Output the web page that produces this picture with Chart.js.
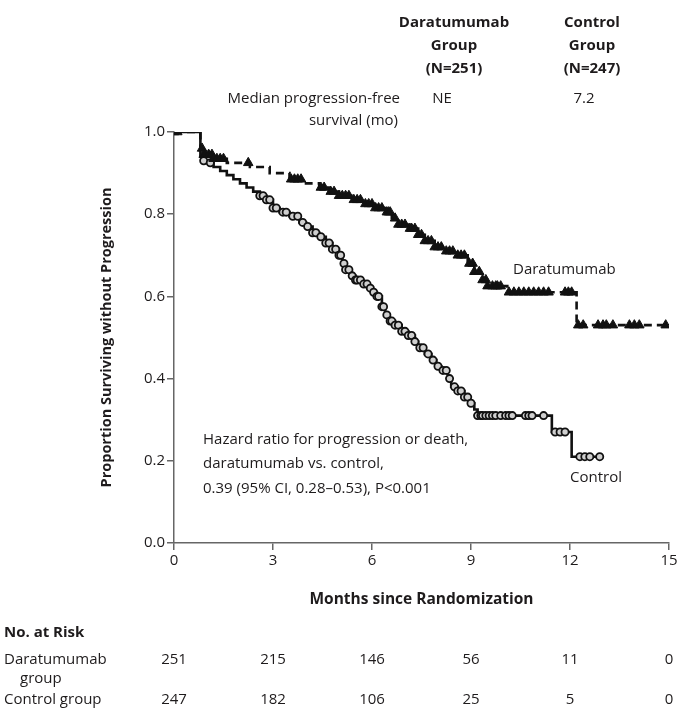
<!DOCTYPE html>
<html>
<head>
<meta charset="utf-8">
<script src="https://cdn.jsdelivr.net/npm/chart.js@4"></script>
<style>
  body { margin: 0; background: #fff; }
  canvas { display: block; }
</style>
</head>
<body>
<canvas id="grafico" width="681" height="710"></canvas>
<script>
// Curva de Kaplan-Meier - grupo daratumumab (tempo em meses, proporção)
const daraMeses = [0, 0.8, 0.9, 1.2, 1.6, 2.3, 2.9, 3.5, 4.0, 4.4, 4.7, 5.0, 5.4, 5.8, 6.1, 6.4, 6.6, 6.8, 7.1, 7.4, 7.6, 7.9, 8.2, 8.6, 8.9, 9.1, 9.3, 9.5, 10.1, 12.2, 15];
const daraSobrev = [1.0, 0.96, 0.945, 0.935, 0.925, 0.915, 0.9, 0.885, 0.875, 0.865, 0.855, 0.845, 0.835, 0.825, 0.815, 0.805, 0.79, 0.775, 0.765, 0.75, 0.735, 0.72, 0.71, 0.7, 0.68, 0.66, 0.64, 0.625, 0.61, 0.53, 0.53];

// Curva do grupo controle
const ctrlMeses = [0, 0.8, 0.85, 1.0, 1.2, 1.4, 1.6, 1.8, 2.0, 2.2, 2.4, 2.6, 2.8, 3.0, 3.2, 3.5, 3.8, 4.0, 4.2, 4.4, 4.6, 4.8, 5.0, 5.1, 5.2, 5.35, 5.5, 5.7, 5.9, 6.0, 6.15, 6.3, 6.4, 6.5, 6.7, 6.9, 7.1, 7.3, 7.4, 7.6, 7.8, 7.95, 8.1, 8.3, 8.4, 8.6, 8.8, 8.95, 9.1, 9.2, 11.45, 12.05, 12.9];
const ctrlSobrev = [1.0, 0.94, 0.93, 0.925, 0.915, 0.905, 0.895, 0.885, 0.875, 0.865, 0.855, 0.845, 0.835, 0.815, 0.805, 0.795, 0.78, 0.77, 0.755, 0.745, 0.73, 0.715, 0.7, 0.68, 0.665, 0.65, 0.64, 0.63, 0.62, 0.61, 0.6, 0.575, 0.555, 0.54, 0.53, 0.515, 0.505, 0.49, 0.475, 0.46, 0.445, 0.43, 0.42, 0.4, 0.38, 0.37, 0.355, 0.34, 0.325, 0.31, 0.27, 0.21, 0.21];

// Tempos de censura (marcadores)
const daraCensura = [0, 0.1, 0.85, 0.9, 0.95, 1.05, 1.15, 1.2, 1.3, 1.4, 1.5, 2.25, 3.55, 3.65, 3.75, 3.85, 4.45, 4.55, 4.75, 4.85, 5.0, 5.1, 5.2, 5.3, 5.45, 5.55, 5.65, 5.8, 5.9, 6.0, 6.1, 6.2, 6.3, 6.45, 6.5, 6.55, 6.7, 6.8, 6.9, 7.0, 7.15, 7.2, 7.3, 7.4, 7.5, 7.6, 7.7, 7.8, 7.9, 8.0, 8.1, 8.25, 8.35, 8.45, 8.6, 8.7, 8.8, 8.95, 9.05, 9.1, 9.25, 9.35, 9.45, 9.5, 9.65, 9.75, 9.8, 9.9, 10.15, 10.3, 10.45, 10.6, 10.75, 10.9, 11.05, 11.2, 11.35, 11.85, 11.95, 12.05, 12.25, 12.4, 12.85, 13.0, 13.1, 13.3, 13.8, 13.95, 14.1, 14.9];
const ctrlCensura = [0.9, 1.1, 2.6, 2.7, 2.8, 2.9, 3.0, 3.1, 3.3, 3.4, 3.6, 3.75, 3.9, 4.05, 4.2, 4.3, 4.45, 4.6, 4.7, 4.8, 4.9, 5.0, 5.05, 5.15, 5.2, 5.3, 5.4, 5.5, 5.55, 5.65, 5.75, 5.85, 5.95, 6.05, 6.15, 6.2, 6.3, 6.35, 6.45, 6.55, 6.6, 6.7, 6.8, 6.9, 7.0, 7.1, 7.2, 7.3, 7.45, 7.55, 7.7, 7.85, 8.0, 8.15, 8.25, 8.35, 8.5, 8.6, 8.7, 8.8, 8.9, 9.0, 9.2, 9.3, 9.35, 9.45, 9.55, 9.65, 9.75, 9.9, 10.05, 10.15, 10.25, 10.65, 10.75, 10.85, 11.2, 11.55, 11.7, 11.85, 12.3, 12.45, 12.6, 12.9];

// Eixo x e número em risco
const marcasX = [0, 3, 6, 9, 12, 15];
const riscoDara = [251, 215, 146, 56, 11, 0];
const riscoCtrl = [247, 182, 106, 25, 5, 0];

const FONTE = '"Open Sans", sans-serif';
const COR_TEXTO = '#1e1b1c';

// valor da curva em degrau no tempo t
function valorNoTempo(meses, sobrev, t) {
  let v = sobrev[0];
  for (let i = 0; i < meses.length; i++) {
    if (meses[i] <= t) v = sobrev[i];
  }
  return v;
}

const pontos = (meses, sobrev) => meses.map((m, i) => ({ x: m, y: sobrev[i] }));
const censuras = (tempos, meses, sobrev) => tempos.map(t => ({ x: t, y: valorNoTempo(meses, sobrev, t) }));

// Plugin para desenhar os textos fora do gráfico
const textos = {
  id: 'textos',
  afterDraw(chart) {
    const c = chart.ctx;
    const xs = chart.scales.x;
    c.save();
    c.fillStyle = COR_TEXTO;
    c.textBaseline = 'middle';

    // cabeçalho
    c.font = 'bold 15px ' + FONTE;
    c.textAlign = 'center';
    [['Daratumumab', 'Group', '(N=251)', 454], ['Control', 'Group', '(N=247)', 592]].forEach(col => {
      c.fillText(col[0], col[3], 23);
      c.fillText(col[1], col[3], 46);
      c.fillText(col[2], col[3], 69);
    });
    c.font = '15px ' + FONTE;
    c.fillText('NE', 442, 99);
    c.fillText('7.2', 584, 99);
    c.textAlign = 'right';
    c.fillText('Median progression-free', 400, 99);
    c.fillText('survival (mo)', 398, 121);

    // rótulos das curvas e razão de risco
    c.textAlign = 'left';
    c.fillText('Daratumumab', 513, 270);
    c.fillText('Control', 570, 478);
    c.fillText('Hazard ratio for progression or death,', 203, 440);
    c.fillText('daratumumab vs. control,', 203, 464);
    c.fillText('0.39 (95% CI, 0.28\u20130.53), P<0.001', 203, 489);

    // títulos dos eixos
    c.font = 'bold 15.5px ' + FONTE;
    c.textAlign = 'center';
    c.fillText('Months since Randomization', (chart.chartArea.left + chart.chartArea.right) / 2, 600);
    c.save();
    c.translate(107, (chart.chartArea.top + chart.chartArea.bottom) / 2);
    c.rotate(-Math.PI / 2);
    c.font = 'bold 14.5px ' + FONTE;
    c.fillText('Proportion Surviving without Progression', 0, 0);
    c.restore();

    // número em risco
    c.textAlign = 'left';
    c.font = 'bold 15px ' + FONTE;
    c.fillText('No. at Risk', 4, 633);
    c.font = '15px ' + FONTE;
    c.fillText('Daratumumab', 4, 660);
    c.fillText('group', 20, 679);
    c.fillText('Control group', 4, 700);
    c.textAlign = 'center';
    marcasX.forEach((m, i) => {
      const px = xs.getPixelForValue(m);
      c.fillText(String(riscoDara[i]), px, 660);
      c.fillText(String(riscoCtrl[i]), px, 700);
    });
    c.restore();
  }
};

const ctx = document.getElementById('grafico').getContext('2d');

new Chart(ctx, {
  type: 'line',
  data: {
    datasets: [
      {
        label: 'Daratumumab censura',
        type: 'scatter',
        data: censuras(daraCensura, daraMeses, daraSobrev),
        pointStyle: 'triangle',
        pointRadius: 5.5,
        backgroundColor: '#111',
        borderColor: '#111',
        borderWidth: 1
      },
      {
        label: 'Control censura',
        type: 'scatter',
        data: censuras(ctrlCensura, ctrlMeses, ctrlSobrev),
        pointStyle: 'circle',
        pointRadius: 3.6,
        backgroundColor: '#cfcfcf',
        borderColor: '#111',
        borderWidth: 1.8
      },
      {
        label: 'Daratumumab',
        data: pontos(daraMeses, daraSobrev),
        stepped: 'before',
        borderColor: '#111',
        borderWidth: 2.6,
        borderDash: [8, 5],
        pointRadius: 0,
        fill: false
      },
      {
        label: 'Control',
        data: pontos(ctrlMeses, ctrlSobrev),
        stepped: 'before',
        borderColor: '#111',
        borderWidth: 2.6,
        pointRadius: 0,
        fill: false
      }
    ]
  },
  options: {
    responsive: false,
    animation: false,
    layout: { padding: { left: 0, right: 12, top: 132, bottom: 0 } },
    plugins: {
      legend: { display: false },
      tooltip: { enabled: false }
    },
    scales: {
      x: {
        type: 'linear',
        min: 0,
        max: 15,
        afterFit: s => { s.height = 167; },
        afterBuildTicks: s => { s.ticks = marcasX.map(v => ({ value: v })); },
        ticks: { color: COR_TEXTO, font: { family: FONTE, size: 15 }, padding: 2 },
        grid: { drawOnChartArea: false, tickLength: 7, color: '#666', lineWidth: 1.5 },
        border: { color: '#666', width: 1.5 }
      },
      y: {
        min: 0,
        max: 1,
        afterFit: s => { s.width = 174; },
        ticks: {
          stepSize: 0.2,
          color: COR_TEXTO,
          font: { family: FONTE, size: 15 },
          padding: 2,
          callback: v => v.toFixed(1)
        },
        grid: { drawOnChartArea: false, tickLength: 7, color: '#666', lineWidth: 1.5 },
        border: { color: '#666', width: 1.5 }
      }
    }
  },
  plugins: [textos]
});
</script>
</body>
</html>
